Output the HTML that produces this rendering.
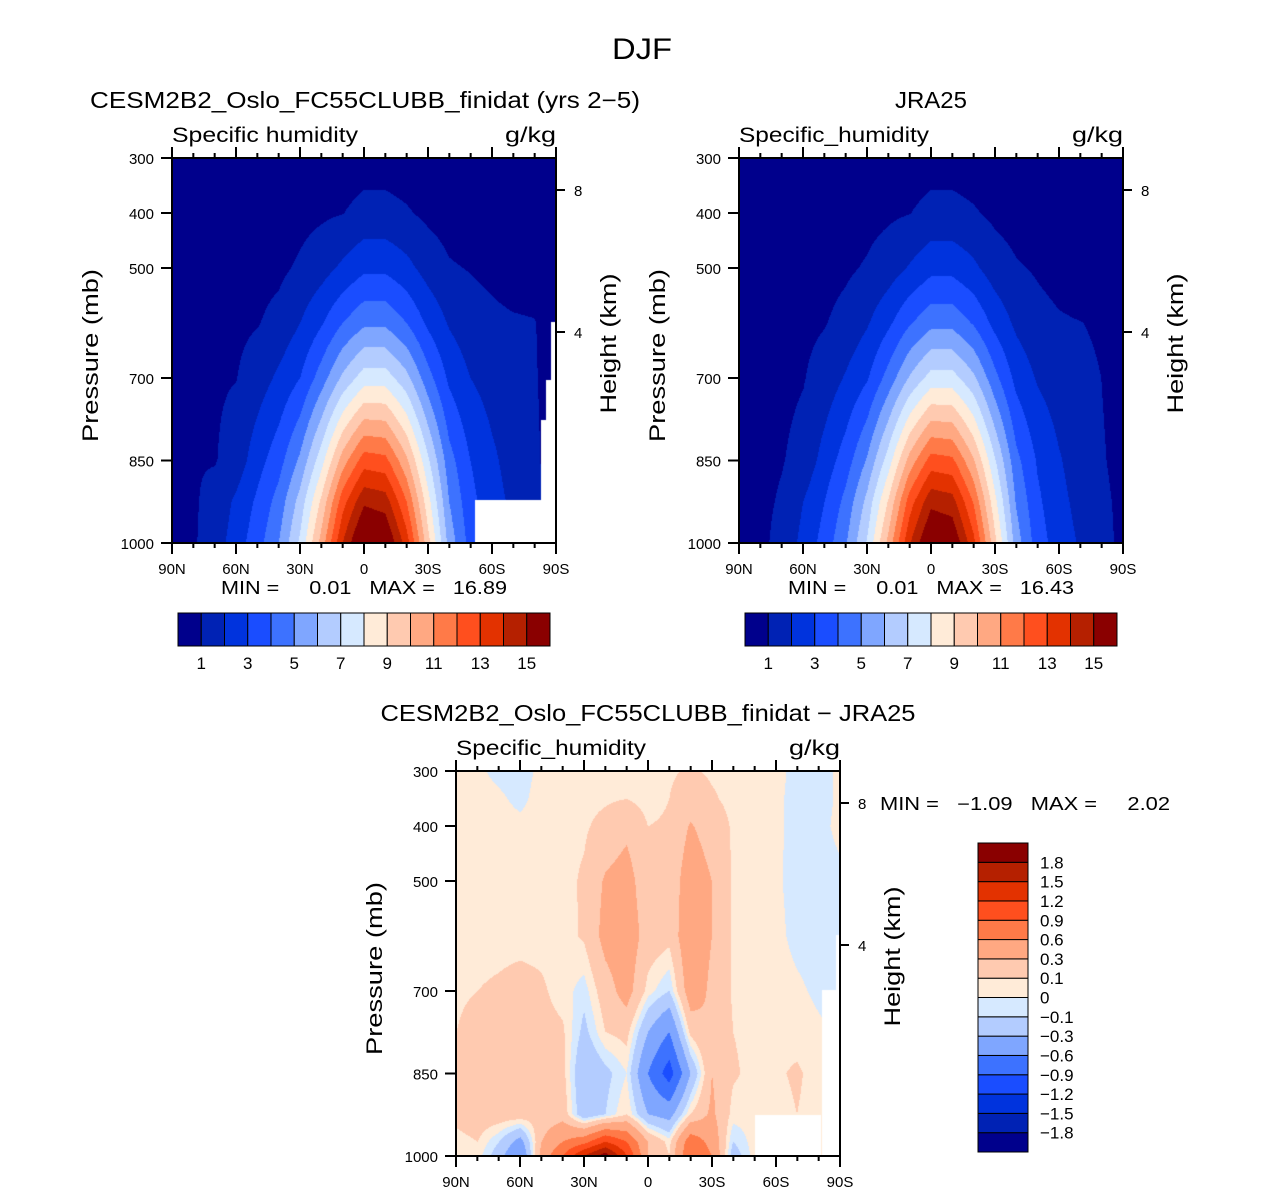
<!DOCTYPE html>
<html><head><meta charset="utf-8">
<style>
html,body{margin:0;padding:0;background:#fff;}
#wrap{position:relative;width:1285px;height:1193px;overflow:hidden;font-family:"Liberation Sans",sans-serif;}
canvas{position:absolute;}
svg{position:absolute;left:0;top:0;}
text{white-space:pre;}
</style></head>
<body>
<div id="wrap">
<canvas id="c1" width="384" height="385" style="left:172px;top:158px"></canvas>
<canvas id="c2" width="384" height="385" style="left:739px;top:158px"></canvas>
<canvas id="c3" width="384" height="385" style="left:456px;top:771px"></canvas>
<svg id="ov" width="1285" height="1193"></svg>
</div>
<script>
// ---- data ----
const pressures = [300,400,500,600,700,850,925,1000];
const lats = [-90,-80,-70,-60,-50,-40,-30,-20,-10,0,10,20,30,40,50,60,70,80,90]; // -90 = 90N, 90 = 90S
const modelQ = [
 [0.1,0.1,0.1,0.1,0.15,0.2,0.3,0.4,0.5,0.6,0.6,0.5,0.4,0.3,0.2,0.15,0.1,0.1,0.1],
 [0.15,0.2,0.2,0.25,0.35,0.5,0.7,0.85,0.98,1.3,1.3,1.1,0.8,0.6,0.4,0.3,0.2,0.15,0.1],
 [0.3,0.35,0.4,0.5,0.7,0.8,1.15,1.6,2.2,2.8,2.8,2.3,1.6,1.1,0.95,0.8,0.6,0.5,0.3],
 [0.5,0.6,0.7,0.8,0.95,1.3,2.0,2.9,4.0,4.8,4.8,4.0,2.8,1.9,1.4,1.2,1.1,1.05,0.5],
 [0.7,0.8,0.9,0.98,1.5,2.2,3.0,4.5,6.2,7.5,7.5,6.3,4.4,2.8,2.0,1.6,1.3,1.1,0.5],
 [0.85,0.95,0.95,1.4,2.6,3.6,5.2,7.6,10.5,12.5,12.3,10.2,7.2,4.4,3.0,2.2,1.6,1.2,0.5],
 [0.9,0.9,1.3,2.2,3.2,4.4,6.4,9.2,12.6,14.8,14.5,12,8.4,5,3.3,2.4,1.8,1.3,0.5],
 [0.9,0.9,1.5,2.5,3.6,5,7.2,10.4,14,16.6,16.2,13.5,9.4,5.6,3.6,2.6,2.0,1.5,0.5]
];
const obsQ = [
 [0.1,0.1,0.1,0.1,0.15,0.2,0.3,0.4,0.5,0.6,0.6,0.5,0.4,0.3,0.2,0.15,0.1,0.1,0.1],
 [0.15,0.2,0.2,0.25,0.35,0.5,0.7,0.85,0.98,1.3,1.3,1.1,0.8,0.6,0.4,0.3,0.2,0.15,0.1],
 [0.3,0.35,0.4,0.5,0.7,0.85,1.1,1.5,2.1,2.7,2.7,2.2,1.5,1.1,0.9,0.7,0.5,0.4,0.3],
 [0.5,0.55,0.65,0.8,0.95,1.3,1.9,2.8,3.9,4.7,4.7,3.9,2.7,1.8,1.3,1.1,1.02,0.9,0.5],
 [0.6,0.7,0.8,0.95,1.4,2.1,2.9,4.4,6.1,7.4,7.4,6.2,4.3,2.7,1.9,1.5,1.2,1.0,0.6],
 [0.7,0.8,0.95,1.3,2.4,3.5,5.1,7.5,10.4,12.4,12.2,10.1,7.1,4.3,2.9,2.1,1.5,1.1,0.7],
 [0.7,0.8,1.1,2.0,3.0,4.3,6.3,9.1,12.5,14.7,14.4,11.9,8.3,4.9,3.2,2.3,1.7,1.2,0.8],
 [0.7,0.8,1.3,2.3,3.4,4.9,7.1,10.3,13.9,16.3,16.0,13.3,9.3,5.5,3.5,2.5,1.9,1.3,0.8]
];
const diffPressures = [300,350,400,500,600,700,775,850,925,975,1000];
const diffQ = [
 [0.05,0.02,-0.03,-0.05,0.03,0.05,0.05,0.05,0.05,0.03,0.08,0.12,0.08,0.05,0.05,0.03,-0.03,-0.05,0.02],
 [0.05,0.05,0.02,-0.03,0.05,0.06,0.06,0.08,0.1,0.05,0.1,0.2,0.12,0.06,0.05,0.02,-0.03,-0.05,0.02],
 [0.05,0.05,0.05,0.03,0.06,0.07,0.08,0.15,0.25,0.1,0.12,0.32,0.2,0.08,0.05,0.02,-0.03,-0.04,0.03],
 [0.05,0.05,0.05,0.05,0.05,0.06,0.12,0.33,0.4,0.15,0.15,0.45,0.3,0.08,0.05,0.02,-0.04,-0.05,-0.03],
 [0.05,0.06,0.06,0.06,0.06,0.05,0.12,0.38,0.45,0.2,0.15,0.5,0.3,0.08,0.05,0.03,-0.03,-0.05,-0.05],
 [0.08,0.1,0.12,0.15,0.12,0.05,-0.05,0.2,0.4,0.05,-0.1,0.45,0.25,0.08,0.06,0.05,0.02,-0.02,-0.05],
 [0.1,0.15,0.15,0.2,0.15,0.12,-0.15,0.1,0.15,-0.3,-0.6,0.15,0.3,0.1,0.06,0.06,0.05,0.02,-0.02],
 [0.12,0.2,0.2,0.25,0.2,0.15,-0.3,-0.15,0.0,-0.6,-1.05,-0.3,0.3,0.12,0.06,0.08,0.12,0.05,0.0],
 [0.15,0.2,0.2,0.2,0.15,0.2,-0.25,-0.1,0.1,-0.3,-0.4,0.1,0.35,0.05,0.05,0.05,0.1,0.05,0.0],
 [0.05,0.1,-0.1,-0.4,0.3,0.6,0.8,1.2,0.9,0.3,0.05,0.8,0.5,-0.1,0.05,0.05,0.05,0.05,0.05],
 [0.05,0.05,-0.2,-0.6,0.4,0.9,1.5,1.95,1.2,0.3,0.1,0.9,0.6,-0.2,0.05,0.05,0.05,0.05,0.05]
];
const qLevels = [1,2,3,4,5,6,7,8,9,10,11,12,13,14,15];
const qLabels = ["1","3","5","7","9","11","13","15"];
const dLevels = [-1.8,-1.5,-1.2,-0.9,-0.6,-0.3,-0.1,0,0.1,0.3,0.6,0.9,1.2,1.5,1.8];
const dLabels = ["-1.8","-1.5","-1.2","-0.9","-0.6","-0.3","-0.1","0","0.1","0.3","0.6","0.9","1.2","1.5","1.8"];
const colors = ["#00008C","#0022B4","#0033DD","#1A4DFF","#3D72FF","#7FA6FF","#B3CCFF","#D6E9FF","#FFEBD8","#FFCAB0","#FFA882","#FF7A48","#FF4F1E","#E33200","#B52000","#8A0000"];
const pTicks = [300,400,500,700,850,1000];
const xTickLabels = ["90N","60N","30N","0","30S","60S","90S"];

// ---- helpers ----
const W=384,H=385;
function interp(grid, plev, lat, p){
  let j=0; while(j<plev.length-2 && p>plev[j+1]) j++;
  let ty=(p-plev[j])/(plev[j+1]-plev[j]); ty=Math.max(0,Math.min(1,ty));
  let fx=(lat+90)/10; let i=Math.min(17,Math.floor(fx)); let tx=fx-i;
  const a=grid[j][i],b=grid[j][i+1],c=grid[j+1][i],d=grid[j+1][i+1];
  return (a*(1-tx)+b*tx)*(1-ty)+(c*(1-tx)+d*tx)*ty;
}
function levelIndex(v,levels){let k=0;while(k<levels.length&&v>=levels[k])k++;return k;}
function hexRgb(h){return [parseInt(h.slice(1,3),16),parseInt(h.slice(3,5),16),parseInt(h.slice(5,7),16)];}
const rgb=colors.map(hexRgb);
function drawField(id,grid,plev,levels,masks){
  const cv=document.getElementById(id),ctx=cv.getContext('2d');
  const img=ctx.createImageData(W,H);
  for(let y=0;y<H;y++){const p=300+y/(H-1)*700;
    for(let x=0;x<W;x++){const lat=-90+x/(W-1)*180;
      const c=rgb[levelIndex(interp(grid,plev,lat,p),levels)];
      const o=(y*W+x)*4;img.data[o]=c[0];img.data[o+1]=c[1];img.data[o+2]=c[2];img.data[o+3]=255;}}
  ctx.putImageData(img,0,0);
  ctx.fillStyle="#fff";
  (masks||[]).forEach(m=>ctx.fillRect(m[0],m[1],m[2],m[3]));
}
drawField('c1',modelQ,pressures,qLevels,[[303,342,81,43],[369,262,15,123],[374,222,10,40],[379,164,5,58]]);
drawField('c2',obsQ,pressures,qLevels,[]);
drawField('c3',diffQ,diffPressures,dLevels,[[299,344,66,41],[366,219,18,166],[380,164,4,55]]);

// ---- svg overlay ----
const NS="http://www.w3.org/2000/svg",ov=document.getElementById('ov');
function el(tag,attrs,parent){const e=document.createElementNS(NS,tag);for(const k in attrs)e.setAttribute(k,attrs[k]);(parent||ov).appendChild(e);return e;}
function txt(s,x,y,size,anchor,parent,extra){const t=el('text',Object.assign({x:x,y:y,'font-size':size,'text-anchor':anchor||'start',fill:'#000','font-family':'"Liberation Sans",sans-serif'},extra||{}),parent);t.textContent=s;return t;}
function fit(len){return {textLength:len,lengthAdjust:'spacingAndGlyphs'};}
const yP=(p,y0)=>y0+(p-300)/700*H;
const xL=(lat,x0)=>x0+(lat+90)/180*W;
function axes(x0,y0,name,title,titleX,titleLen,left,leftLen){
  const g=el('g',{});
  
  
  el('rect',{x:x0,y:y0,width:W,height:H,fill:'none',stroke:'#000','stroke-width':2},g);
  for(let lat=-90;lat<=90;lat+=10){const x=xL(lat,x0);const maj=lat%30===0;
    el('line',{x1:x,y1:y0,x2:x,y2:y0-(maj?11:5),stroke:'#000','stroke-width':2},g);
    el('line',{x1:x,y1:y0+H,x2:x,y2:y0+H+(maj?11:5),stroke:'#000','stroke-width':2},g);}
  xTickLabels.forEach((s,i)=>{const t=txt(s,x0+i*64,y0+H+31,15,'middle',g);});
  pTicks.forEach(p=>{const y=yP(p,y0);el('line',{x1:x0,y1:y,x2:x0-11,y2:y,stroke:'#000','stroke-width':2},g);
    const t=txt(String(p),x0-18,y+6,15,'end',g);});
  [[8,32],[4,174]].forEach(h=>{const y=y0+h[1];el('line',{x1:x0+W,y1:y,x2:x0+W+9,y2:y,stroke:'#000','stroke-width':2},g);
    txt(String(h[0]),x0+W+18,y+6,15,'start',g);});
  const yl=txt('Pressure (mb)',0,0,22,'middle',g,Object.assign({transform:`translate(${x0-74},${y0+H/2+5}) rotate(-90)`},fit(173)));
  
  const hl=txt('Height (km)',0,0,22,'middle',g,Object.assign({transform:`translate(${x0+W+60},${y0+H/2-7}) rotate(-90)`},fit(140)));
  
  const s=txt(left,x0,y0-16,21,'start',g,fit(leftLen));
  const u=txt('g/kg',x0+W,y0-16,21,'end',g,fit(51));
  const tt=txt(title,titleX,y0-50,23,'middle',g,fit(titleLen));
}
const dj=txt('DJF',642,59,30,'middle',ov,fit(60));

axes(172,158,'model-panel','CESM2B2_Oslo_FC55CLUBB_finidat (yrs 2\u22125)',365,550,'Specific humidity',186);
axes(739,158,'jra25-panel','JRA25',931,72,'Specific_humidity',190);
axes(456,771,'difference-panel','CESM2B2_Oslo_FC55CLUBB_finidat \u2212 JRA25',648,535,'Specific_humidity',190);
const m1=txt('MIN =     0.01   MAX =   16.89',364,594,18,'middle',ov,fit(286));

const m2=txt('MIN =     0.01   MAX =   16.43',931,594,18,'middle',ov,fit(286));

const m3=txt('MIN =   \u22121.09   MAX =     2.02',1025,810,18,'middle',ov,fit(290));


function hbar(x0,y0,w,h,name){
  const g=el('g',{});
  const bw=w/colors.length;
  colors.forEach((c,i)=>{const r=el('rect',{x:x0+i*bw,y:y0,width:bw,height:h,fill:c,stroke:'#000','stroke-width':1},g);
    });
  qLabels.forEach((s,i)=>{const t=txt(s,x0+(1+2*i)*bw,y0+h+23,17,'middle',g);});
}
hbar(178,613,372,33,'model-colorbar');
hbar(745,613,372,33,'jra25-colorbar');
(function(){
  const x0=978,y0=843,w=50,h=309;const bh=h/colors.length;
  const g=el('g',{});
  colors.forEach((c,i)=>{const r=el('rect',{x:x0,y:y0+h-(i+1)*bh,width:w,height:bh,fill:c,stroke:'#000','stroke-width':1},g);
    });
  dLabels.forEach((s,i)=>{const t=txt(s.replace('-','\u2212'),x0+w+12,y0+h-(i+1)*bh+6,17,'start',g);
    });
})();
</script>
</body></html>
